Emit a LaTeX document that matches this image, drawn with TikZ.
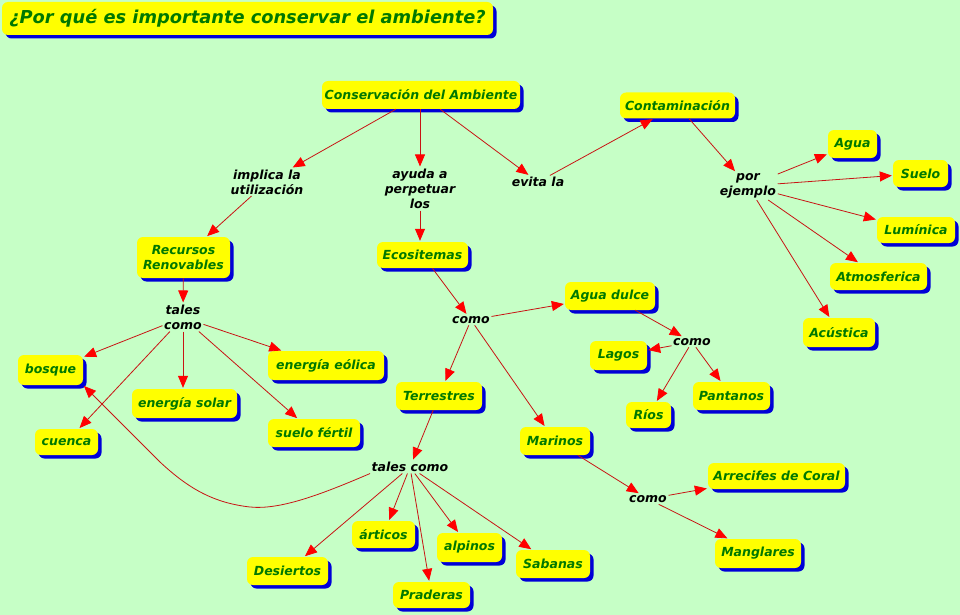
\documentclass[tikz,border=0pt]{standalone}
\usepackage{fontspec}
\setmainfont{DejaVu Sans}
\usetikzlibrary{arrows.meta,shadows}
\definecolor{bg}{RGB}{198,255,198}
\definecolor{boxy}{RGB}{255,255,0}
\definecolor{shblue}{RGB}{0,0,215}
\definecolor{txtg}{RGB}{0,120,0}
\definecolor{linered}{RGB}{200,20,20}
\definecolor{tipred}{RGB}{255,0,0}
\tikzset{
  concept/.style={fill=boxy, rounded corners=6pt, inner sep=1pt, text=txtg,
    font=\fontsize{12.5}{14.5}\selectfont\bfseries\itshape, align=center,
    drop shadow={shadow xshift=3.5pt, shadow yshift=-3.5pt, fill=shblue, opacity=1}},
  link/.style={inner sep=1.5pt, text=black, align=center,
    font=\fontsize{12.5}{15}\selectfont\bfseries\itshape},
  conn/.style={draw=linered, line width=0.8pt, shorten >=1pt,
    -{Triangle[length=12pt,width=10pt,fill=tipred,color=tipred]}},
}
\begin{document}
\begin{tikzpicture}[x=1pt,y=-1pt]
\fill[bg] (0,0) rectangle (960,615);
\useasboundingbox (0,0) rectangle (960,615);
% title
\node[concept, minimum width=491pt, minimum height=33pt, font=\fontsize{17.8}{20}\selectfont\bfseries\itshape] (title) at (247.5,18.5) {¿Por qué es importante conservar el ambiente?};
% concepts
\node[concept, minimum width=198pt, minimum height=28pt] (cons) at (421,95) {Conservación del Ambiente};
\node[concept, minimum width=115pt, minimum height=26pt] (contam) at (677.5,105.5) {Contaminación};
\node[concept, minimum width=49pt, minimum height=28pt] (agua) at (852.5,144) {Agua};
\node[concept, minimum width=55pt, minimum height=27pt] (suelo) at (920.5,173.5) {Suelo};
\node[concept, minimum width=78pt, minimum height=26pt] (lumin) at (916,230) {Lumínica};
\node[concept, minimum width=97pt, minimum height=27pt] (atmos) at (878.5,276.5) {Atmosferica};
\node[concept, minimum width=72pt, minimum height=29pt] (acust) at (839,332.5) {Acústica};
\node[concept, minimum width=93pt, minimum height=41pt] (recursos) at (183.5,257.5) {Recursos\\Renovables};
\node[concept, minimum width=65pt, minimum height=30pt] (bosque) at (50.5,370) {bosque};
\node[concept, minimum width=116pt, minimum height=29pt] (eolica) at (326,365.5) {energía eólica};
\node[concept, minimum width=105pt, minimum height=29pt] (solar) at (184.5,403.5) {energía solar};
\node[concept, minimum width=92pt, minimum height=28pt] (suelof) at (314,433) {suelo fértil};
\node[concept, minimum width=63pt, minimum height=26pt] (cuenca) at (66.5,442) {cuenca};
\node[concept, minimum width=91pt, minimum height=26pt] (ecos) at (422.5,255) {Ecositemas};
\node[concept, minimum width=90pt, minimum height=28pt] (adulce) at (610,296) {Agua dulce};
\node[concept, minimum width=57pt, minimum height=29pt] (lagos) at (618.5,355.5) {Lagos};
\node[concept, minimum width=45pt, minimum height=26pt] (rios) at (648.5,415) {Ríos};
\node[concept, minimum width=77pt, minimum height=28pt] (pantanos) at (731.5,396) {Pantanos};
\node[concept, minimum width=86pt, minimum height=28pt] (terr) at (439,396) {Terrestres};
\node[concept, minimum width=70pt, minimum height=28pt] (marinos) at (555,441) {Marinos};
\node[concept, minimum width=81pt, minimum height=28pt] (desiertos) at (287.5,571) {Desiertos};
\node[concept, minimum width=63pt, minimum height=27pt] (articos) at (383.5,534.5) {árticos};
\node[concept, minimum width=77pt, minimum height=26pt] (praderas) at (431.5,595) {Praderas};
\node[concept, minimum width=65pt, minimum height=29pt] (alpinos) at (469.5,547.5) {alpinos};
\node[concept, minimum width=74pt, minimum height=28pt] (sabanas) at (553,564) {Sabanas};
\node[concept, minimum width=137pt, minimum height=26pt] (arrecifes) at (776.5,476) {Arrecifes de Coral};
\node[concept, minimum width=86pt, minimum height=29pt] (manglares) at (758,553.5) {Manglares};
% linking phrases
\node[link] (implica) at (267,182) {implica la\\utilización};
\node[link] (ayuda) at (420,189) {ayuda a\\perpetuar\\los};
\node[link] (evita) at (538,182) {evita la};
\node[link] (porej) at (748,186) {por\\ejemplo};
\node[link] (tc1) at (183,317.5) {tales\\como};
\node[link] (como1) at (471,320) {como};
\node[link] (como2) at (692,342) {como};
\node[link] (tc2) at (410,467) {tales como};
\node[link] (como3) at (648,499) {como};
% connectors
\draw[conn] (cons) -- (implica);
\draw[conn] (cons.south -| ayuda.north) -- (ayuda);
\draw[conn] (cons) -- (evita);
\draw[conn] (evita) -- (contam);
\draw[conn] (contam) -- (porej);
\draw[conn] (porej) -- (agua);
\draw[conn] (porej) -- (suelo);
\draw[conn] (porej) -- (lumin);
\draw[conn] (porej) -- (atmos);
\draw[conn] (porej) -- (acust);
\draw[conn] (implica) -- (recursos);
\draw[conn] (ayuda.south) -- (ayuda.south |- ecos.north);
\draw[conn] (recursos) -- (tc1);
\draw[conn] (tc1) -- (bosque);
\draw[conn] (tc1) -- (cuenca);
\draw[conn] (tc1.south) -- (tc1.south |- solar.north);
\draw[conn] (tc1) -- (suelof);
\draw[conn] (tc1) -- (eolica);
\draw[conn] (ecos) -- (como1);
\draw[conn] (como1) -- (adulce);
\draw[conn] (como1) -- (terr);
\draw[conn] (como1) -- (marinos);
\draw[conn] (adulce) -- (como2);
\draw[conn] (como2) -- (lagos);
\draw[conn] (como2) -- (rios);
\draw[conn] (como2) -- (pantanos);
\draw[conn] (terr) -- (tc2);
\draw[conn] (tc2) -- (desiertos);
\draw[conn] (tc2) -- (articos);
\draw[conn] (tc2) -- (praderas);
\draw[conn] (tc2) -- (alpinos);
\draw[conn] (tc2) -- (sabanas);
\draw[conn] (marinos) -- (como3);
\draw[conn] (como3) -- (arrecifes);
\draw[conn] (como3) -- (manglares);
\coordinate (cv1) at (250,507);
\coordinate (cv2) at (160,462);
\draw[conn] (tc2.south west) .. controls (320,495) and (280,510) .. (cv1)
   .. controls (215,503) and (190,490) .. (cv2) -- (bosque.south east);
\end{tikzpicture}
\end{document}
